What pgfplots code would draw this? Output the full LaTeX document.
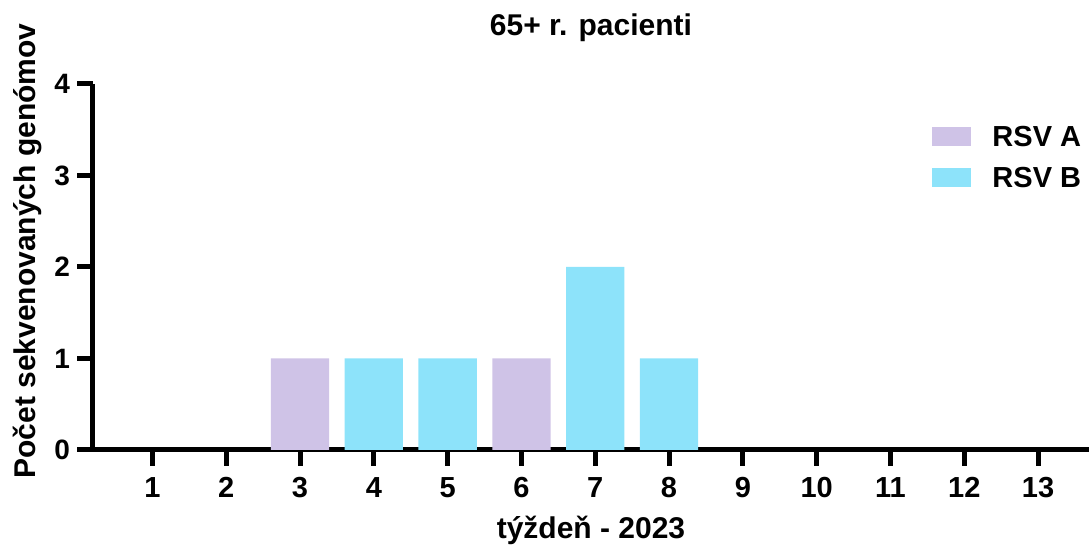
\documentclass[border=0pt]{standalone}
\usepackage{fontspec}
\setmainfont{Liberation Sans}
\usepackage{pgfplots}
\pgfplotsset{compat=1.18}
\definecolor{rsva}{HTML}{CFC3E7}
\definecolor{rsvb}{HTML}{8DE3FA}

\pgfplotstableread{
x a b
1 0 0
2 0 0
3 1 0
4 0 1
5 0 1
6 1 0
7 0 2
8 0 1
9 0 0
10 0 0
11 0 0
12 0 0
13 0 0
}\datatable

\begin{document}
\begin{tikzpicture}
\begin{axis}[
  scale only axis, width=498pt, height=183pt,
  xmin=0.195, xmax=13.69, ymin=0, ymax=4,
  axis x line=bottom, axis y line=left,
  axis line style={-, line width=2.5pt, black},
  xtick={1,...,13}, ytick={0,...,4},
  minor tick num=0,
  tick align=outside, major tick length=8pt,
  tick style={line width=2.5pt, black},
  /pgf/number format/assume math mode=true,
  xticklabel style={font=\fontsize{14.5}{17}\selectfont\bfseries, yshift=-2pt},
  yticklabel style={font=\fontsize{14}{17}\selectfont\bfseries},
  ybar stacked, bar width=0.79, bar shift=0pt,
  title={65+ r. pacienti},
  title style={font=\fontsize{15}{18}\selectfont\bfseries, at={(axis description cs:0.5,1.161)}, anchor=center, yshift=-7.5pt},
  xlabel={týždeň - 2023},
  xlabel style={font=\fontsize{15}{18}\selectfont\bfseries, at={(axis description cs:0.5,-0.219)}, anchor=center},
  ylabel={Počet sekvenovaných genómov},
  ylabel style={font=\fontsize{15}{18}\selectfont\bfseries, at={(axis description cs:-0.0653,0.544)}, anchor=center, rotate=0},
  legend style={draw=none, fill=none, at={(axis description cs:0.836,0.907)}, anchor=north west,
    font=\fontsize{14.5}{17}\selectfont\bfseries, row sep=5pt},
  legend cell align=left,
  legend image code/.code={\fill[#1] (0pt,-4.05pt) rectangle (19.5pt,5.45pt); \path (28.2pt,0pt);},
]
\addplot[fill=rsva, draw=none] table[x=x, y=a] {\datatable};
\addlegendentry{RSV A}
\addplot[fill=rsvb, draw=none] table[x=x, y=b] {\datatable};
\addlegendentry{RSV B}
\coordinate (bl) at (rel axis cs:0,0);
\coordinate (tr) at (rel axis cs:1,1);
\end{axis}
\pgfresetboundingbox
\path ([xshift=-46.5pt,yshift=-52.5pt]bl) rectangle ([yshift=42pt]tr);
\end{tikzpicture}
\end{document}
